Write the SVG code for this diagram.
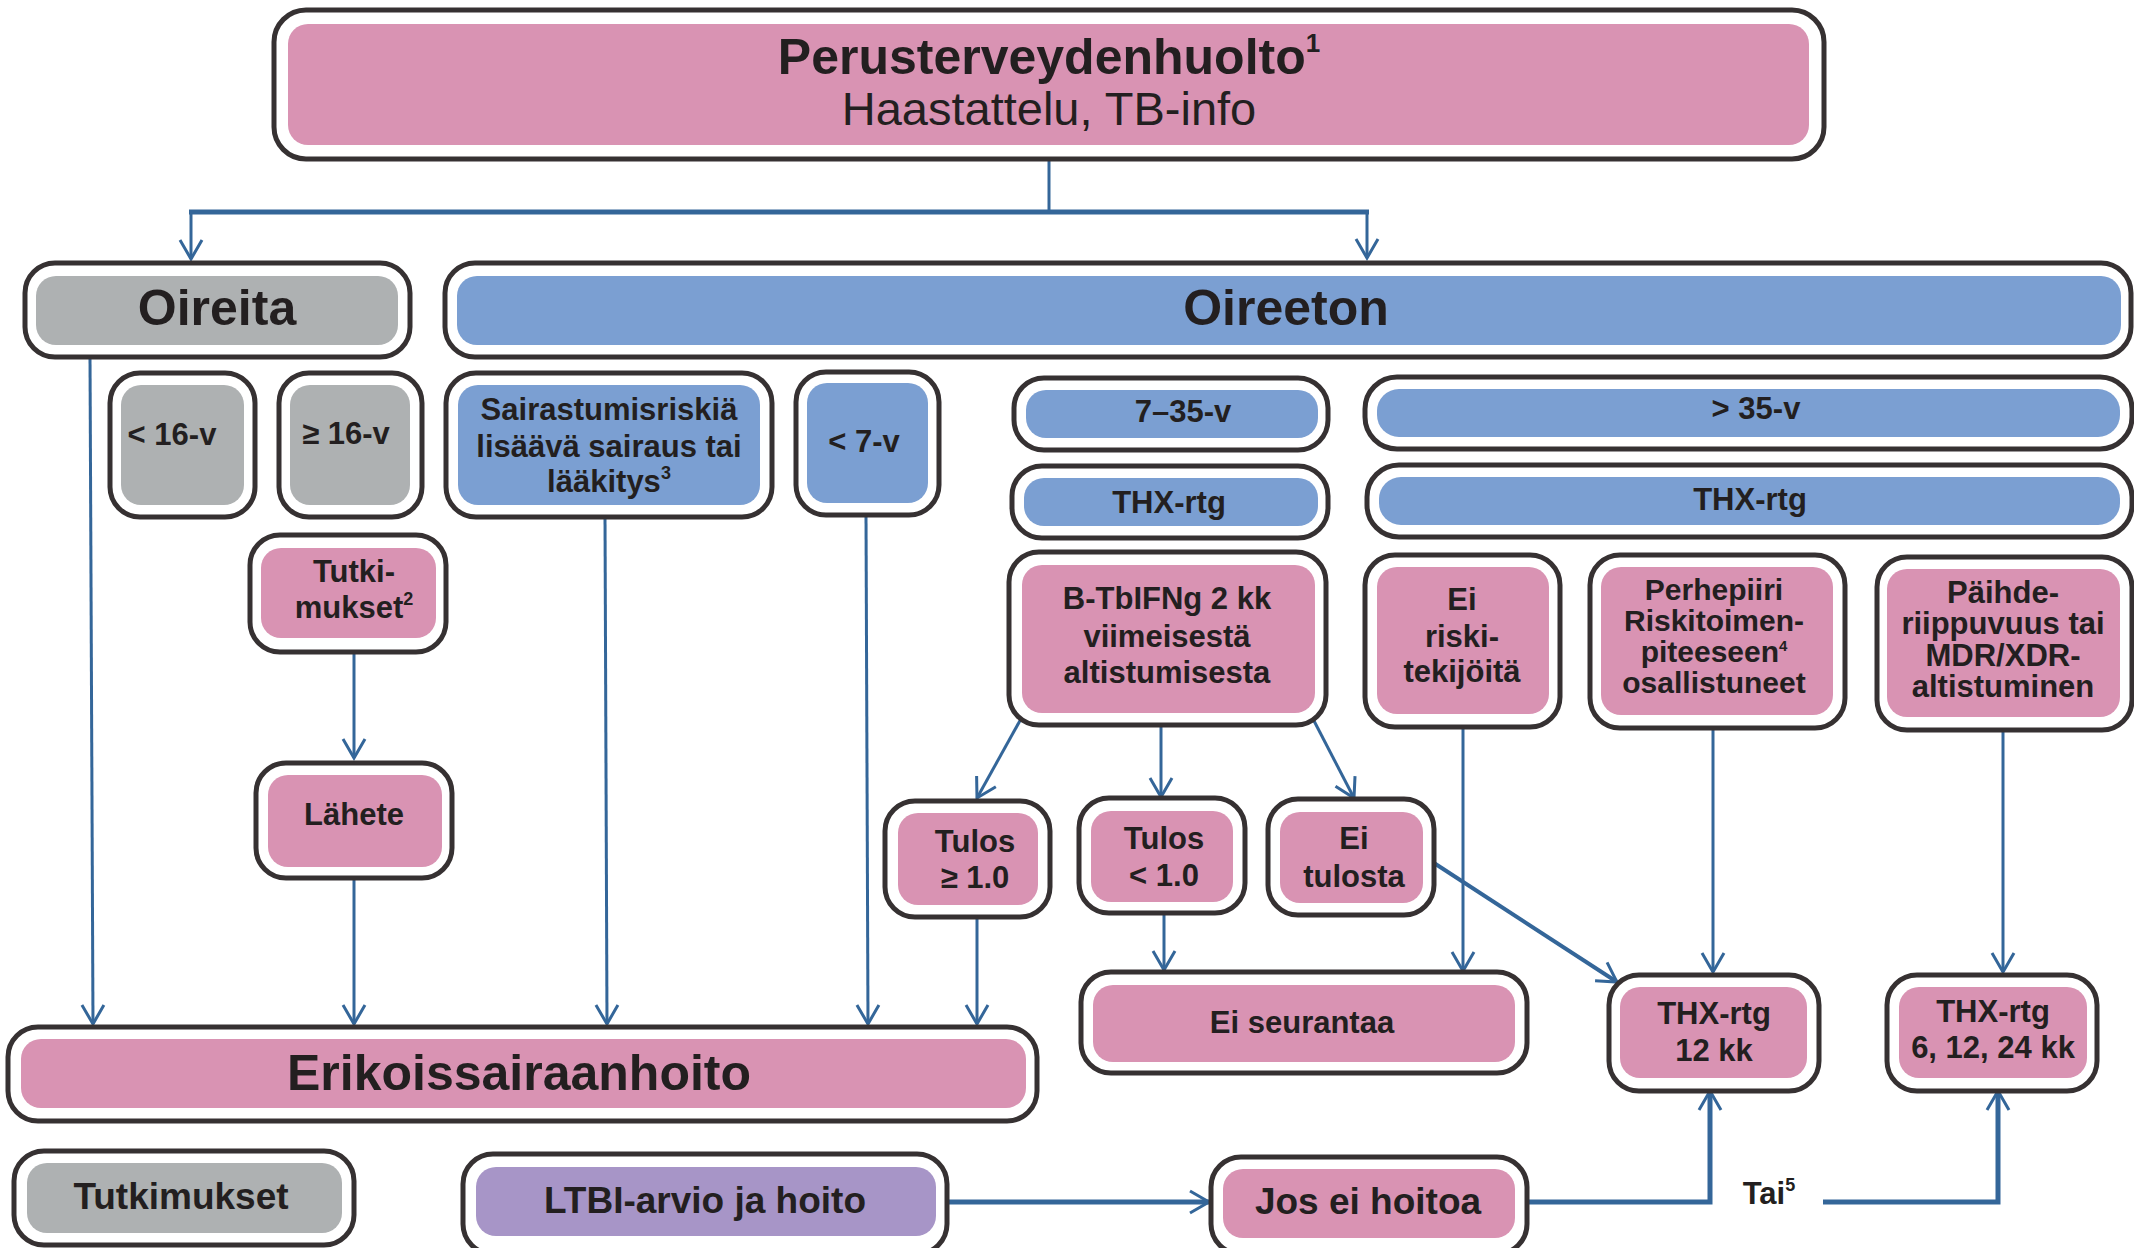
<svg xmlns="http://www.w3.org/2000/svg" width="2134" height="1248" viewBox="0 0 2134 1248">
<defs>
<style>
.o{fill:#fff;stroke:#363132;stroke-width:5}
.p{fill:#d993b3}
.b{fill:#7b9fd2}
.g{fill:#aeb1b2}
.v{fill:#a795c7}
text{font-family:"Liberation Sans",Arial,sans-serif;font-weight:bold;fill:#231f20;text-anchor:middle}
.s{font-size:31px}
.m{font-size:37px}
.L{font-size:50px}
.c{fill:none;stroke:#346699;stroke-width:3}
.t{stroke-width:5}
.a{marker-end:url(#ah)}
</style>
<marker id="ah" markerUnits="userSpaceOnUse" viewBox="-22 -14 26 28" refX="0" refY="0" markerWidth="26" markerHeight="28" orient="auto" overflow="visible">
<path d="M-19,-11 L0,0 L-19,11" fill="none" stroke="#346699" stroke-width="3"/>
</marker>
</defs>
<rect width="2134" height="1248" fill="#fff"/>

<g id="connectors">
<path class="c" d="M1049,159 V212"/>
<path class="c t" d="M189,212 H1369"/>
<path class="c a" d="M191,212 V259"/>
<path class="c a" d="M1367,212 V258"/>
<path class="c a" d="M90,357 L93,1024"/>
<path class="c a" d="M354,652 V758"/>
<path class="c a" d="M354,878 V1024"/>
<path class="c a" d="M605,517 L607,1024"/>
<path class="c a" d="M866,515 L868,1024"/>
<path class="c a" d="M977,917 V1024"/>
<path class="c a" d="M1022,717 L977,798"/>
<path class="c a" d="M1161,725 V797"/>
<path class="c a" d="M1312,717 L1354,798"/>
<path class="c a" d="M1164,913 V970"/>
<path class="c a" d="M1463,727 V971"/>
<path class="c a" style="stroke-width:4" d="M1434,863 L1617,982"/>
<path class="c a" d="M1713,728 V972"/>
<path class="c a" d="M2003,730 V972"/>
<path class="c a" style="stroke-width:5" d="M947,1202 H1209"/>
<path class="c a" style="stroke-width:5" d="M1527,1202 H1710 V1091"/>
<path class="c a" style="stroke-width:5" d="M1823,1202 H1998 V1091"/>
</g>

<g id="perusterveydenhuolto">
<rect class="o" x="274" y="10" width="1550" height="149" rx="32"/>
<rect class="p" x="288" y="24" width="1521" height="121" rx="20"/>
<text class="L" x="1049" y="74">Perusterveydenhuolto<tspan font-size="26" dy="-22">1</tspan></text>
<text x="1049" y="125" style="font-size:47px;font-weight:normal">Haastattelu, TB-info</text>
</g>

<g id="oireita">
<rect class="o" x="25" y="263" width="385" height="94" rx="30"/>
<rect class="g" x="36" y="276" width="362" height="69" rx="20"/>
<text class="L" x="217" y="325">Oireita</text>
</g>

<g id="oireeton">
<rect class="o" x="445" y="263" width="1686" height="94" rx="30"/>
<rect class="b" x="457" y="276" width="1664" height="69" rx="20"/>
<text class="L" x="1286" y="325">Oireeton</text>
</g>

<g id="alle16">
<rect class="o" x="110" y="373" width="145" height="144" rx="30"/>
<rect class="g" x="121" y="385" width="123" height="120" rx="20"/>
<text class="s" x="172" y="445">&lt; 16-v</text>
</g>

<g id="yli16">
<rect class="o" x="279" y="373" width="143" height="144" rx="30"/>
<rect class="g" x="290" y="385" width="120" height="120" rx="20"/>
<text class="s" x="346" y="444">≥ 16-v</text>
</g>

<g id="sairastumisriski">
<rect class="o" x="446" y="373" width="326" height="144" rx="30"/>
<rect class="b" x="458" y="385" width="302" height="120" rx="20"/>
<text class="s" x="609" y="420">Sairastumisriskiä</text>
<text class="s" x="609" y="457">lisäävä sairaus tai</text>
<text class="s" x="609" y="492">lääkitys<tspan font-size="18" dy="-13">3</tspan></text>
</g>

<g id="alle7">
<rect class="o" x="796" y="372" width="143" height="143" rx="30"/>
<rect class="b" x="807" y="383" width="121" height="120" rx="20"/>
<text class="s" x="864" y="452">&lt; 7-v</text>
</g>

<g id="ika7-35">
<rect class="o" x="1014" y="378" width="314" height="72" rx="30"/>
<rect class="b" x="1026" y="390" width="292" height="48" rx="20"/>
<text class="s" x="1183" y="422">7–35-v</text>
</g>

<g id="thx-7-35">
<rect class="o" x="1012" y="466" width="316" height="72" rx="30"/>
<rect class="b" x="1024" y="478" width="294" height="48" rx="20"/>
<text class="s" x="1169" y="513">THX-rtg</text>
</g>

<g id="yli35">
<rect class="o" x="1365" y="377" width="767" height="72" rx="32"/>
<rect class="b" x="1377" y="389" width="743" height="48" rx="22"/>
<text class="s" x="1756" y="419">&gt; 35-v</text>
</g>

<g id="thx-yli35">
<rect class="o" x="1367" y="465" width="765" height="72" rx="32"/>
<rect class="b" x="1379" y="477" width="741" height="48" rx="22"/>
<text class="s" x="1750" y="510">THX-rtg</text>
</g>

<g id="tutkimukset2">
<rect class="o" x="250" y="535" width="196" height="117" rx="30"/>
<rect class="p" x="261" y="548" width="175" height="90" rx="20"/>
<text class="s" x="354" y="582">Tutki-</text>
<text class="s" x="354" y="618">mukset<tspan font-size="18" dy="-13">2</tspan></text>
</g>

<g id="b-tbifng">
<rect class="o" x="1009" y="552" width="317" height="173" rx="30"/>
<rect class="p" x="1022" y="565" width="293" height="148" rx="20"/>
<text class="s" x="1167" y="609">B-TbIFNg 2 kk</text>
<text class="s" x="1167" y="647">viimeisestä</text>
<text class="s" x="1167" y="683">altistumisesta</text>
</g>

<g id="ei-riski">
<rect class="o" x="1365" y="555" width="195" height="172" rx="30"/>
<rect class="p" x="1377" y="567" width="172" height="147" rx="20"/>
<text class="s" x="1462" y="610">Ei</text>
<text class="s" x="1462" y="647">riski-</text>
<text class="s" x="1462" y="682">tekijöitä</text>
</g>

<g id="perhepiiri">
<rect class="o" x="1590" y="555" width="255" height="173" rx="30"/>
<rect class="p" x="1601" y="567" width="232" height="148" rx="20"/>
<text class="s" x="1714" y="600" style="font-size:30px">Perhepiiri</text>
<text class="s" x="1714" y="631" style="font-size:30px">Riskitoimen-</text>
<text class="s" x="1714" y="662" style="font-size:30px">piteeseen<tspan font-size="15" dy="-11">4</tspan></text>
<text class="s" x="1714" y="693" style="font-size:30px">osallistuneet</text>
</g>

<g id="paihde">
<rect class="o" x="1877" y="557" width="255" height="173" rx="30"/>
<rect class="p" x="1887" y="569" width="233" height="148" rx="20"/>
<text class="s" x="2003" y="603">Päihde-</text>
<text class="s" x="2003" y="634">riippuvuus tai</text>
<text class="s" x="2003" y="666">MDR/XDR-</text>
<text class="s" x="2003" y="697">altistuminen</text>
</g>

<g id="lahete">
<rect class="o" x="256" y="763" width="196" height="115" rx="30"/>
<rect class="p" x="268" y="775" width="174" height="92" rx="20"/>
<text class="s" x="354" y="825">Lähete</text>
</g>

<g id="tulos-yli">
<rect class="o" x="885" y="801" width="165" height="116" rx="30"/>
<rect class="p" x="898" y="813" width="140" height="92" rx="20"/>
<text class="s" x="975" y="852">Tulos</text>
<text class="s" x="975" y="888">≥ 1.0</text>
</g>

<g id="tulos-alle">
<rect class="o" x="1079" y="798" width="166" height="115" rx="30"/>
<rect class="p" x="1091" y="811" width="142" height="91" rx="20"/>
<text class="s" x="1164" y="849">Tulos</text>
<text class="s" x="1164" y="886">&lt; 1.0</text>
</g>

<g id="ei-tulosta">
<rect class="o" x="1268" y="799" width="166" height="116" rx="30"/>
<rect class="p" x="1280" y="812" width="143" height="91" rx="20"/>
<text class="s" x="1354" y="849">Ei</text>
<text class="s" x="1354" y="887">tulosta</text>
</g>

<g id="ei-seurantaa">
<rect class="o" x="1081" y="972" width="446" height="101" rx="30"/>
<rect class="p" x="1093" y="985" width="422" height="77" rx="20"/>
<text class="s" x="1302" y="1033">Ei seurantaa</text>
</g>

<g id="thx-12">
<rect class="o" x="1609" y="975" width="210" height="116" rx="30"/>
<rect class="p" x="1620" y="987" width="187" height="91" rx="20"/>
<text class="s" x="1714" y="1024">THX-rtg</text>
<text class="s" x="1714" y="1061">12 kk</text>
</g>

<g id="thx-6-12-24">
<rect class="o" x="1887" y="975" width="210" height="116" rx="30"/>
<rect class="p" x="1899" y="987" width="188" height="91" rx="20"/>
<text class="s" x="1993" y="1022">THX-rtg</text>
<text class="s" x="1993" y="1058">6, 12, 24 kk</text>
</g>

<g id="erikoissairaanhoito">
<rect class="o" x="8" y="1027" width="1029" height="94" rx="30"/>
<rect class="p" x="21" y="1039" width="1005" height="69" rx="20"/>
<text class="L" x="519" y="1090">Erikoissairaanhoito</text>
</g>

<g id="tutkimukset">
<rect class="o" x="14" y="1151" width="340" height="94" rx="30"/>
<rect class="g" x="27" y="1163" width="315" height="70" rx="20"/>
<text class="m" x="181" y="1209">Tutkimukset</text>
</g>

<g id="ltbi">
<rect class="o" x="463" y="1154" width="484" height="100" rx="30"/>
<rect class="v" x="476" y="1167" width="460" height="69" rx="20"/>
<text class="m" x="705" y="1213">LTBI-arvio ja hoito</text>
</g>

<g id="jos-ei-hoitoa">
<rect class="o" x="1211" y="1157" width="316" height="97" rx="30"/>
<rect class="p" x="1223" y="1169" width="292" height="69" rx="20"/>
<text class="m" x="1368" y="1214">Jos ei hoitoa</text>
</g>

<g id="tai">
<text class="s" x="1769" y="1204">Tai<tspan font-size="18" dy="-13">5</tspan></text>
</g>
</svg>
